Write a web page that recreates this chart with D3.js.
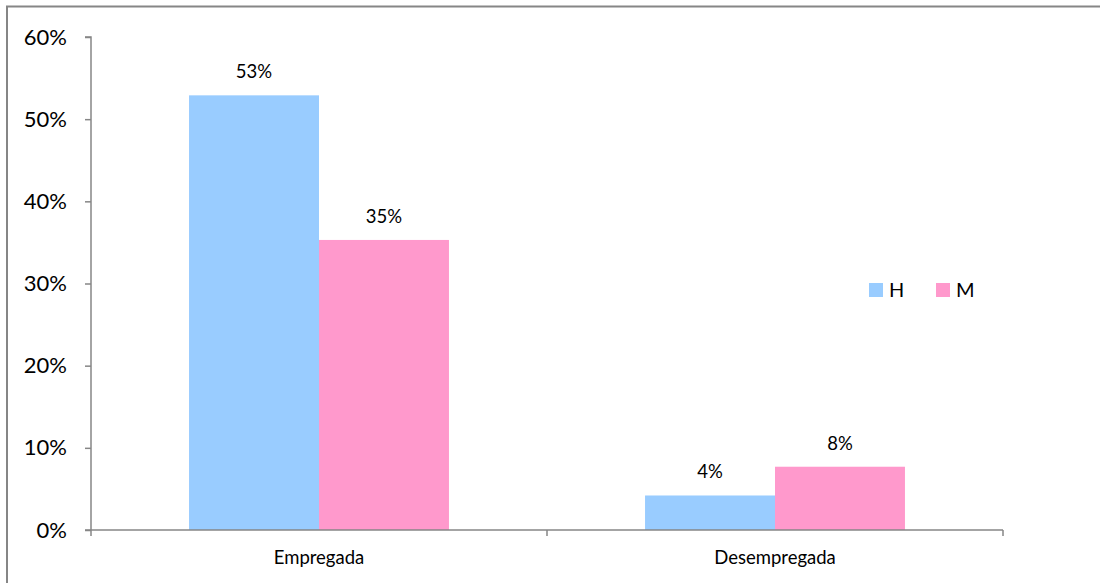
<!DOCTYPE html>
<html>
<head>
<meta charset="utf-8">
<script src="https://cdn.jsdelivr.net/npm/d3@7"></script>
<style>
  html, body { margin: 0; padding: 0; background: #fff; }
  svg { display: block; font-family: Lato, "Open Sans", sans-serif; }
</style>
</head>
<body>
<svg id="chart" width="1100" height="583"></svg>
<script>
// Employment status by sex (share of respondents)
const categories = ["Empregada", "Desempregada"];
const seriesNames = ["H", "M"];
const valuesH = [0.529, 0.042];
const valuesM = [0.353, 0.077];
const valueLabelsH = ["53%", "4%"];
const valueLabelsM = ["35%", "8%"];
const yTicks = [0, 0.1, 0.2, 0.3, 0.4, 0.5, 0.6];

const colors = { H: "#99CCFF", M: "#FF99CC" };
const axisColor = "#868686";

const svg = d3.select("#chart");

// outer frame
svg.append("rect")
  .attr("x", 7).attr("y", 6.5)
  .attr("width", 1200).attr("height", 700)
  .attr("fill", "none")
  .attr("stroke", axisColor)
  .attr("stroke-width", 2);

const plot = { left: 91, right: 1003, top: 37, bottom: 530 };

const y = d3.scaleLinear().domain([0, 0.6]).range([plot.bottom, plot.top]);
const x = d3.scaleBand().domain(categories)
  .range([plot.left, plot.right])
  .paddingInner(0.43).paddingOuter(0.215);
const xs = d3.scaleBand().domain(seriesNames).range([0, x.bandwidth()]);

const rows = categories.map((c, i) => ({
  cat: c,
  items: [
    { s: "H", v: valuesH[i], label: valueLabelsH[i] },
    { s: "M", v: valuesM[i], label: valueLabelsM[i] }
  ]
}));

// bars
const groups = svg.append("g").selectAll("g").data(rows).join("g")
  .attr("transform", d => `translate(${x(d.cat)},0)`);

groups.selectAll("rect").data(d => d.items).join("rect")
  .attr("x", d => xs(d.s))
  .attr("y", d => y(d.v))
  .attr("width", xs.bandwidth())
  .attr("height", d => y(0) - y(d.v))
  .attr("fill", d => colors[d.s]);

groups.selectAll("text").data(d => d.items).join("text")
  .attr("x", d => xs(d.s) + xs.bandwidth() / 2)
  .attr("y", d => y(d.v) - 17)
  .attr("text-anchor", "middle")
  .attr("font-size", 18.5)
  .attr("fill", "#000")
  .text(d => d.label);

// y axis
const yAxis = svg.append("g")
  .attr("transform", `translate(${plot.left},0)`)
  .call(d3.axisLeft(y).tickValues(yTicks).tickFormat(d3.format(".0%")).tickSize(6).tickPadding(18));
yAxis.selectAll("line, path").attr("stroke", axisColor).attr("stroke-width", 1.5);
yAxis.select(".domain").attr("d", `M-6,${plot.top}H0V${plot.bottom}`);
yAxis.selectAll("text").attr("font-size", 22).attr("fill", "#000")
  .attr("font-family", "Lato, sans-serif");

// x axis
const xAxis = svg.append("g")
  .attr("transform", `translate(0,${plot.bottom})`);
xAxis.append("line")
  .attr("x1", plot.left - 6).attr("x2", plot.right)
  .attr("stroke", axisColor).attr("stroke-width", 1.5);
const boundaries = [plot.left, ...categories.slice(1).map(c => x(c) - x.step() * 0.215), plot.right];
xAxis.selectAll("line.tick").data(boundaries).join("line")
  .attr("class", "tick")
  .attr("x1", d => d).attr("x2", d => d)
  .attr("y1", 0).attr("y2", 6)
  .attr("stroke", axisColor).attr("stroke-width", 1.5);
xAxis.selectAll("text").data(categories).join("text")
  .attr("x", d => x(d) + x.bandwidth() / 2)
  .attr("y", 34)
  .attr("text-anchor", "middle")
  .attr("font-size", 18.5)
  .attr("fill", "#000")
  .text(d => d);

// legend
const legend = svg.append("g").attr("transform", "translate(869,283)");
const legendItems = legend.selectAll("g").data(seriesNames).join("g")
  .attr("transform", (d, i) => `translate(${i * 67},0)`);
legendItems.append("rect")
  .attr("width", 14).attr("height", 14)
  .attr("fill", d => colors[d]);
legendItems.append("text")
  .attr("x", 20).attr("y", 14)
  .attr("font-size", 20)
  .attr("fill", "#000")
  .text(d => d);
</script>
</body>
</html>
